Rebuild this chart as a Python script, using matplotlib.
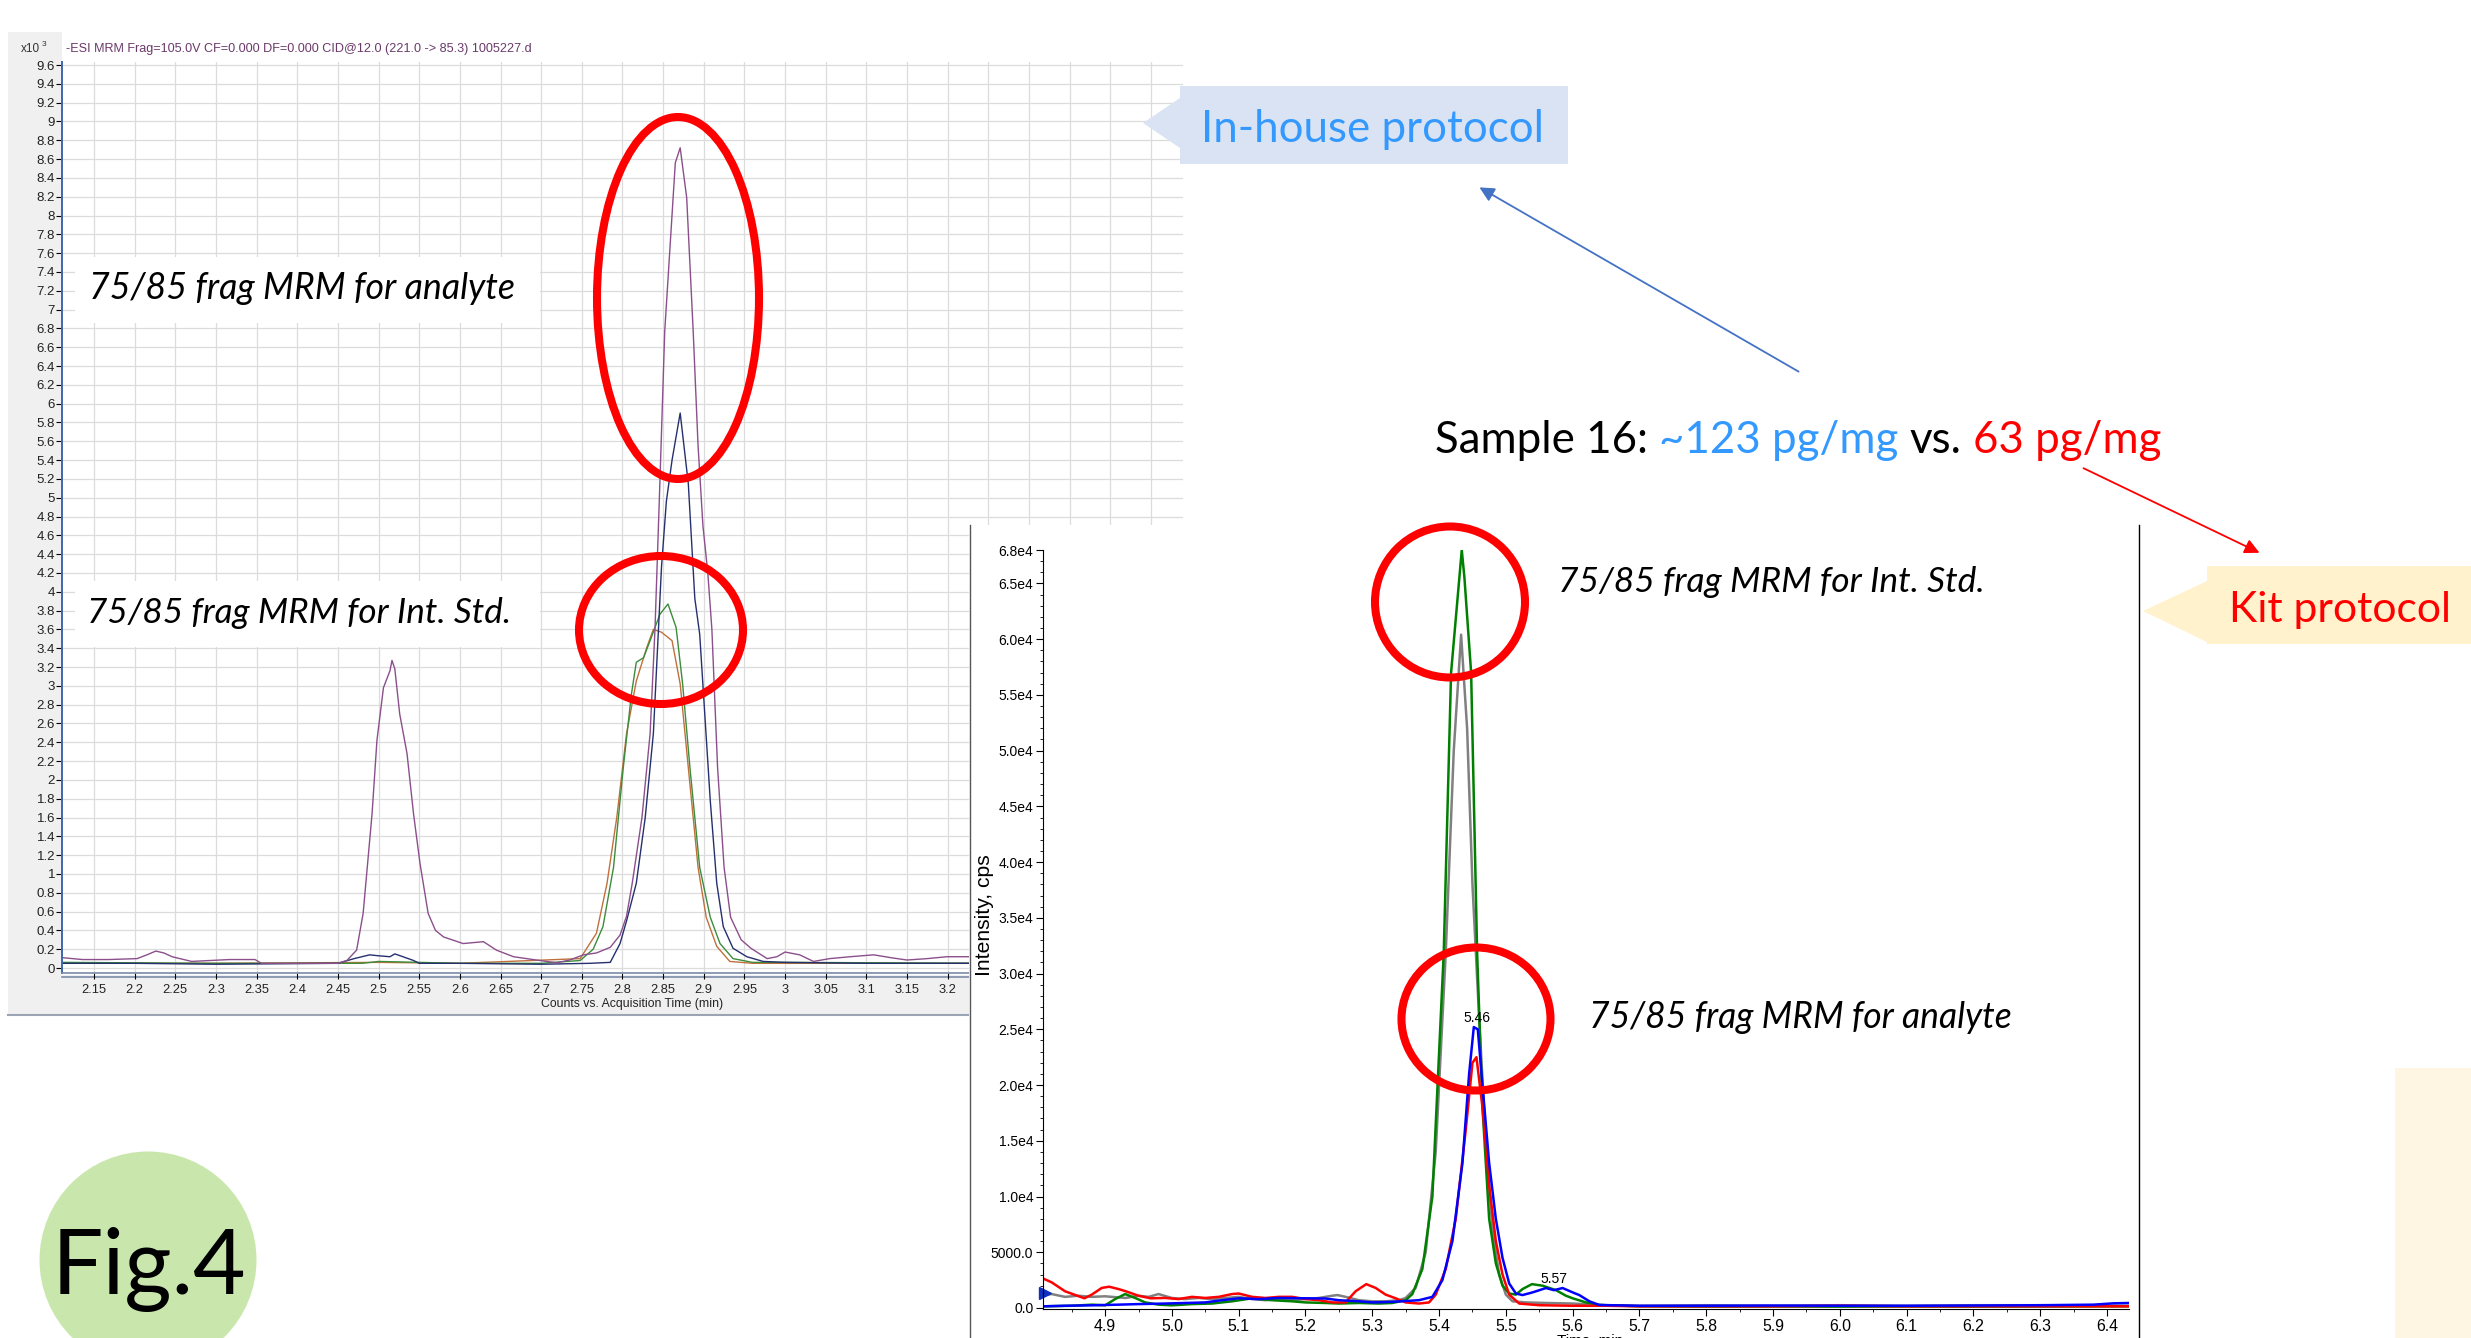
import matplotlib
matplotlib.use("Agg")
import matplotlib.pyplot as plt
from matplotlib import font_manager
from matplotlib.patches import Rectangle, Ellipse, Polygon, Circle
from matplotlib.ticker import MultipleLocator, FuncFormatter

W, H = 2471, 1338

# ---------------- in-house run (counts x10^3 vs. acquisition time, min) ----------------
purple_t = [2.111, 2.136, 2.168, 2.203, 2.215, 2.226, 2.236, 2.246, 2.27, 2.293, 2.317, 2.348,
            2.356, 2.40, 2.45, 2.461, 2.473, 2.481, 2.492, 2.498, 2.506, 2.514, 2.5165, 2.520,
            2.526, 2.535, 2.543, 2.551, 2.561, 2.570, 2.580, 2.604, 2.629, 2.645, 2.666, 2.694,
            2.719, 2.735, 2.752, 2.768, 2.785, 2.797, 2.805, 2.812, 2.824, 2.834, 2.840, 2.846,
            2.852, 2.865, 2.871, 2.879, 2.887, 2.893, 2.899, 2.905, 2.910, 2.917, 2.925, 2.933,
            2.946, 2.958, 2.978, 2.99, 3.0, 3.018, 3.035, 3.055, 3.08, 3.109, 3.13, 3.15, 3.175,
            3.199, 3.227, 3.25]
purple_v = [0.11, 0.09, 0.09, 0.10, 0.14, 0.18, 0.16, 0.12, 0.07, 0.08, 0.09, 0.09,
            0.05, 0.05, 0.05, 0.08, 0.19, 0.58, 1.64, 2.42, 2.98, 3.16, 3.27, 3.18,
            2.70, 2.28, 1.64, 1.11, 0.58, 0.40, 0.33, 0.26, 0.28, 0.19, 0.12, 0.085,
            0.056, 0.085, 0.14, 0.16, 0.22, 0.35, 0.55, 0.90, 1.60, 2.49, 3.6, 5.15,
            6.77, 8.56, 8.72, 8.19, 6.77, 5.55, 4.7, 4.2, 3.6, 2.13, 1.07, 0.54,
            0.30, 0.21, 0.10, 0.12, 0.17, 0.14, 0.07, 0.10, 0.12, 0.14, 0.11, 0.085, 0.10,
            0.12, 0.12, 0.10]

navy_t = [2.111, 2.2, 2.3, 2.45, 2.47, 2.489, 2.50, 2.514, 2.52, 2.53, 2.543, 2.55, 2.6, 2.7,
          2.76, 2.785, 2.797, 2.805, 2.817, 2.828, 2.838, 2.844, 2.848, 2.854, 2.861, 2.871,
          2.881, 2.889, 2.895, 2.908, 2.916, 2.924, 2.936, 2.953, 2.973, 3.0, 3.1, 3.25]
navy_v = [0.05, 0.05, 0.04, 0.05, 0.10, 0.14, 0.13, 0.12, 0.15, 0.12, 0.08, 0.05, 0.05, 0.04,
          0.05, 0.06, 0.26, 0.5, 0.90, 1.60, 2.49, 3.55, 4.26, 4.96, 5.4, 5.90,
          5.15, 3.93, 3.55, 1.78, 0.90, 0.44, 0.21, 0.12, 0.07, 0.06, 0.05, 0.05]

green_t = [2.111, 2.3, 2.48, 2.5, 2.55, 2.6, 2.7, 2.748, 2.764, 2.776, 2.789, 2.801, 2.811,
           2.817, 2.826, 2.834, 2.846, 2.856, 2.866, 2.874, 2.883, 2.895, 2.908, 2.920, 2.936,
           2.96, 3.0, 3.25]
green_v = [0.06, 0.05, 0.05, 0.07, 0.06, 0.05, 0.05, 0.08, 0.2, 0.44, 1.07, 2.13, 2.91,
           3.25, 3.30, 3.48, 3.76, 3.87, 3.62, 3.02, 2.13, 1.07, 0.54, 0.26, 0.10,
           0.06, 0.06, 0.05]

brown_t = [2.111, 2.3, 2.5, 2.6, 2.748, 2.768, 2.781, 2.793, 2.805, 2.817, 2.830, 2.838, 2.848,
           2.861, 2.871, 2.881, 2.893, 2.903, 2.916, 2.932, 2.96, 3.25]
brown_v = [0.05, 0.05, 0.06, 0.05, 0.10, 0.37, 0.90, 1.60, 2.49, 3.05, 3.41, 3.60, 3.57,
           3.48, 3.02, 2.13, 1.07, 0.54, 0.23, 0.07, 0.05, 0.05]

# ---------------- kit run (intensity, cps vs. time, min) ----------------
red_t = [4.807, 4.82, 4.84, 4.869, 4.88, 4.895, 4.906, 4.92, 4.931, 4.95, 4.968, 4.99, 5.01,
         5.03, 5.05, 5.07, 5.09, 5.10, 5.12, 5.14, 5.16, 5.18, 5.20, 5.22, 5.24, 5.26, 5.275,
         5.291, 5.305, 5.32, 5.335, 5.35, 5.37, 5.385, 5.395, 5.41, 5.425, 5.44, 5.45, 5.456,
         5.465, 5.475, 5.485, 5.495, 5.505, 5.52, 5.55, 5.6, 5.65, 5.7, 5.8, 5.9, 6.0, 6.1,
         6.2, 6.3, 6.433]
red_c = [2650, 2300, 1500, 870, 1200, 1800, 1910, 1700, 1500, 1100, 870, 900, 800,
         1000, 900, 1000, 1250, 1300, 1000, 900, 1000, 1000, 800, 700, 500, 500, 1500,
         2140, 1800, 1200, 870, 500, 400, 500, 1200, 3500, 8000, 16000, 22000, 22500,
         18000, 11000, 6000, 3000, 1200, 400, 250, 200, 200, 150, 150, 150, 200, 150,
         150, 150, 150]

gray_t = [4.807, 4.82, 4.84, 4.86, 4.88, 4.90, 4.92, 4.931, 4.95, 4.965, 4.98, 5.0, 5.02, 5.04,
          5.06, 5.08, 5.10, 5.12, 5.14, 5.16, 5.18, 5.20, 5.22, 5.24, 5.248, 5.26, 5.28, 5.30,
          5.32, 5.34, 5.35, 5.365, 5.38, 5.395, 5.41, 5.422, 5.433, 5.442, 5.45, 5.46, 5.47,
          5.48, 5.49, 5.50, 5.51, 5.53, 5.56, 5.6, 5.65, 5.7, 5.8, 5.9, 6.0, 6.1, 6.2, 6.3,
          6.433]
gray_c = [1160, 1250, 1000, 1100, 1000, 1050, 950, 900, 1100, 1000, 1250, 900, 800, 900,
          800, 900, 1000, 800, 700, 800, 700, 800, 900, 1100, 1160, 1000, 700, 600,
          600, 700, 900, 1800, 5000, 14000, 31850, 50000, 60400, 52000, 38000, 26000, 15000,
          7000, 3000, 1200, 600, 500, 450, 400, 250, 200, 250, 200, 250, 200, 250, 250,
          200]

kgreen_t = [4.807, 4.85, 4.88, 4.90, 4.915, 4.93, 4.945, 4.96, 4.98, 5.0, 5.03, 5.06, 5.09,
            5.12, 5.15, 5.18, 5.2, 5.23, 5.25, 5.28, 5.31, 5.33, 5.35, 5.36, 5.375, 5.39,
            5.407, 5.418, 5.434, 5.438, 5.448, 5.457, 5.465, 5.475, 5.485, 5.495, 5.505,
            5.515, 5.525, 5.539, 5.555, 5.575, 5.59, 5.6, 5.62, 5.64, 5.7, 5.8, 5.9, 6.0,
            6.1, 6.2, 6.3, 6.433]
kgreen_c = [150, 200, 300, 240, 800, 1250, 900, 500, 300, 240, 350, 400, 600,
            870, 700, 600, 500, 450, 400, 450, 400, 450, 700, 1250, 3500, 10000,
            31850, 57000, 68000, 65500, 57000, 31850, 18000, 8000, 4000, 2000, 1300,
            1200, 1700, 2140, 2000, 1600, 1100, 870, 500, 270, 150, 120, 130, 120,
            130, 120, 130, 150]

blue_t = [4.807, 4.84, 4.88, 4.92, 4.95, 4.99, 5.02, 5.05, 5.075, 5.1, 5.13, 5.16, 5.2, 5.23,
          5.25, 5.28, 5.3, 5.33, 5.37, 5.39, 5.405, 5.42, 5.435, 5.445, 5.452, 5.458, 5.465,
          5.475, 5.485, 5.495, 5.505, 5.515, 5.525, 5.54, 5.56, 5.572, 5.585, 5.6, 5.61,
          5.625, 5.64, 5.7, 5.8, 5.9, 6.0, 6.1, 6.2, 6.3, 6.38, 6.41, 6.433]
blue_c = [150, 200, 240, 300, 350, 400, 450, 500, 700, 870, 800, 900, 870, 850,
          700, 600, 500, 550, 700, 1000, 2500, 6000, 13000, 21000, 25200, 25000, 20000,
          13000, 8000, 4500, 2200, 1300, 1160, 1400, 1790, 1600, 1790, 1400, 1160,
          600, 270, 200, 200, 220, 200, 200, 220, 250, 300, 420, 450]

kit_yticks = [0, 5000, 10000, 15000, 20000, 25000, 30000, 35000, 40000, 45000, 50000,
              55000, 60000, 65000, 68000]
peak_labels = ["5.46", "5.57"]
peak_label_t = [5.457, 5.572]
peak_label_c = [26000, 2600]
marker_t = [4.81]
marker_c = [1350]

names = {f.name for f in font_manager.fontManager.ttflist}
SANS = "Liberation Sans" if "Liberation Sans" in names else "DejaVu Sans"
SLIDE = "Lato" if "Lato" in names else "DejaVu Sans"

fig = plt.figure(figsize=(W / 100, H / 100), dpi=100)
renderer = fig.canvas.get_renderer()


def frac(x0, y0, x1, y1):
    # pixel box (top-left origin) -> figure fraction rect
    return [x0 / W, 1 - y1 / H, (x1 - x0) / W, (y1 - y0) / H]


def overlay(z):
    a = fig.add_axes([0, 0, 1, 1], zorder=z)
    a.set_xlim(0, W)
    a.set_ylim(H, 0)
    a.set_axis_off()
    a.patch.set_alpha(0)
    return a


def fit(t, width):
    bb = t.get_window_extent(renderer=renderer)
    t.set_fontsize(t.get_fontsize() * width / bb.width)
    return t


# ---- background layer: gray frame of the in-house screenshot ----
bg = overlay(0)
bg.add_patch(Rectangle((8, 32), 54, 983, color="#f0f0f0", lw=0))
bg.add_patch(Rectangle((8, 975), 961, 40, color="#f0f0f0", lw=0))
bg.plot([8, 969], [1015, 1015], color="#9aa4b4", lw=1.5)
bg.plot([62, 969], [977, 977], color="#7a8aa8", lw=1.2)
bg.text(21, 49, "x10", fontsize=8.5, family=SANS, color="#333", va="center")
bg.text(42, 45, "3", fontsize=6, family=SANS, color="#333", va="center")
fit(bg.text(66, 49, "-ESI MRM Frag=105.0V CF=0.000 DF=0.000 CID@12.0 (221.0 -> 85.3) 1005227.d",
            fontsize=10, family=SANS, color="#6b3a6b", va="center"), 465)
fit(bg.text(632, 1004, "Counts vs. Acquisition Time (min)", fontsize=10, family=SANS,
            color="#222", ha="center", va="center"), 181)

# ---- in-house chromatogram ----
ax1 = fig.add_axes(frac(62, 62, 1183, 973), zorder=1)
ax1.set_facecolor("white")
ax1.plot(brown_t, brown_v, color="#c0703c", lw=1.0)
ax1.plot(green_t, green_v, color="#3c8c3c", lw=1.0)
ax1.plot(navy_t, navy_v, color="#26306e", lw=1.0)
ax1.plot(purple_t, purple_v, color="#8b4f8b", lw=1.0)
ax1.set_xlim(2.1106, 3.4895)
ax1.set_ylim(-0.053, 9.632)
ax1.xaxis.set_major_locator(MultipleLocator(0.05))
ax1.yaxis.set_major_locator(MultipleLocator(0.2))
ax1.xaxis.set_major_formatter(FuncFormatter(lambda v, p: f"{v:g}"))
ax1.yaxis.set_major_formatter(FuncFormatter(lambda v, p: f"{v:g}"))
ax1.grid(True, color="#dcdcdc", lw=0.9)
ax1.set_axisbelow(True)
for s in ("top", "right"):
    ax1.spines[s].set_visible(False)
ax1.spines["left"].set_color("#3f66b0")
ax1.spines["left"].set_linewidth(1.4)
ax1.spines["bottom"].set_color("#7a8aa8")
ax1.spines["bottom"].set_linewidth(1.2)
ax1.tick_params(axis="y", length=4, width=0.8, pad=1, labelsize=9.5, labelcolor="#222",
                labelfontfamily=SANS)
ax1.tick_params(axis="x", length=4, width=0.8, pad=4, labelsize=9.3, labelcolor="#222",
                labelfontfamily=SANS)

# ---- white panel of the kit screenshot ----
mid = overlay(2)
mid.add_patch(Rectangle((969, 525), 1170, 813, color="white", lw=0))
mid.plot([969.5, 969.5], [525, H], color="#555", lw=1)
mid.plot([2138.5, 2138.5], [525, H], color="black", lw=1)

# ---- kit chromatogram ----
ax2 = fig.add_axes(frac(1043, 550, 2129, 1309), zorder=3)
ax2.patch.set_alpha(0)
ax2.plot(gray_t, gray_c, color="#808080", lw=1.8)
ax2.plot(kgreen_t, kgreen_c, color="#008000", lw=1.8)
ax2.plot(red_t, red_c, color="#ff0000", lw=1.8)
ax2.plot(blue_t, blue_c, color="#0000ff", lw=1.8)
ax2.plot(marker_t, marker_c, ">", color="#1030c0", ms=8, clip_on=False)
for s, t, c in zip(peak_labels, peak_label_t, peak_label_c):
    ax2.text(t, c, s, ha="center", va="center", fontsize=10, family=SANS)
ax2.set_xlim(4.807, 6.433)
ax2.set_ylim(-90, 68000)
ax2.xaxis.set_major_locator(MultipleLocator(0.1))
ax2.xaxis.set_minor_locator(MultipleLocator(0.05))
ax2.xaxis.set_major_formatter(FuncFormatter(lambda v, p: f"{v:.1f}"))
ax2.set_yticks(kit_yticks)
ax2.yaxis.set_minor_locator(MultipleLocator(1000))


def kit_fmt(v, p):
    if v < 10000:
        return f"{v:.1f}"
    return f"{v / 1e4:.1f}e4"


ax2.yaxis.set_major_formatter(FuncFormatter(kit_fmt))
for s in ("top", "right"):
    ax2.spines[s].set_visible(False)
ax2.tick_params(which="major", length=5, width=0.8, labelsize=10, labelfontfamily=SANS, pad=2)
ax2.tick_params(which="minor", length=2.5, width=0.6)
ax2.tick_params(axis="x", labelsize=11.4)

# ---- slide annotations ----
top = overlay(4)
ylab = fit(top.text(985, 915, "Intensity, cps", fontsize=10, family=SANS,
                    ha="center", va="center"), 122)
ylab.set_rotation(90)
top.text(1590, 1334, "Time, min", fontsize=11, family=SANS, ha="center", va="top")

top.add_patch(Rectangle((75, 257), 465, 66, color="white", lw=0))
top.add_patch(Rectangle((75, 581), 465, 66, color="white", lw=0))
label_kw = dict(fontsize=24, family=SLIDE, style="italic", va="baseline", color="black")
fit(top.text(89, 299, "75/85 frag MRM for analyte", **label_kw), 426)
fit(top.text(87, 623, "75/85 frag MRM for Int. Std.", **label_kw), 425)
fit(top.text(1558, 592, "75/85 frag MRM for Int. Std.", **label_kw), 427)
fit(top.text(1589, 1028, "75/85 frag MRM for analyte", **label_kw), 424)

ring = dict(fill=False, edgecolor="#ff0000", lw=5.8)
top.add_patch(Ellipse((678, 298), 162, 362, **ring))
top.add_patch(Ellipse((661, 630), 164, 148, **ring))
top.add_patch(Ellipse((1450, 602), 150, 151, **ring))
top.add_patch(Ellipse((1476, 1019), 149, 143, **ring))

top.add_patch(Polygon([(1143, 123), (1180, 98), (1180, 86), (1568, 86), (1568, 164),
                       (1180, 164), (1180, 148)], closed=True, color="#dae3f3", lw=0))
fit(top.text(1201, 142, "In-house protocol", fontsize=30, family=SLIDE, color="#3399ff",
             va="baseline"), 342)

top.add_patch(Polygon([(2143, 611), (2207, 581), (2207, 566), (W, 566), (W, 644),
                       (2207, 644), (2207, 642)], closed=True, color="#fff2cc", lw=0))
fit(top.text(2229, 622, "Kit protocol", fontsize=30, family=SLIDE, color="#ff0000",
             va="baseline"), 222)
top.add_patch(Rectangle((2395, 1068), 76, 270, color="#fef5e3", lw=0))

top.annotate("", xy=(1477, 186), xytext=(1801, 373),
             arrowprops=dict(arrowstyle="-|>", color="#4472c4", lw=1.3, mutation_scale=22))
top.annotate("", xy=(2262, 554), xytext=(2081, 467),
             arrowprops=dict(arrowstyle="-|>", color="#ff0000", lw=1.3, mutation_scale=22))

# multi-coloured sample line
probe = top.text(0, 0, "Sample 16: ~123 pg/mg vs. 63 pg/mg", fontsize=30, family=SLIDE)
fs = 30 * 726 / probe.get_window_extent(renderer=renderer).width
probe.remove()


def text_w(s):
    t = top.text(0, 0, s, fontsize=fs, family=SLIDE)
    w = t.get_window_extent(renderer=renderer).width
    t.remove()
    return w


space = text_w("x x") - text_w("xx")
x = 1435
for s, c in [("Sample 16:", "black"), ("~123 pg/mg", "#3399ff"), ("vs.", "black"),
             ("63 pg/mg", "#ff0000")]:
    t = top.text(x, 453, s, fontsize=fs, family=SLIDE, color=c, va="baseline")
    x += t.get_window_extent(renderer=renderer).width + space

top.add_patch(Circle((148, 1260), 108.5, color="#c9e7ad", lw=0))
fit(top.text(52, 1294, "Fig.4", fontsize=68, family=SLIDE, color="black", va="baseline"), 195)

fig.savefig("out.png", dpi=100)
